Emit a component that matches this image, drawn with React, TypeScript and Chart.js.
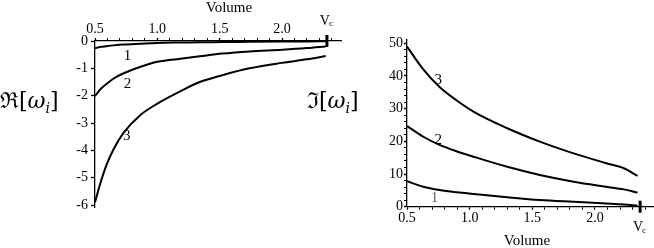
import React, { useEffect, useRef } from "react";
import { Chart, registerables } from "chart.js";
Chart.register(...registerables);

// ---- data ----
const VC = 2.36;
const X_MAJOR = [0.5, 1.0, 1.5, 2.0];
const RE_Y_TICKS = [0, -1, -2, -3, -4, -5, -6];
const IM_Y_TICKS = [0, 10, 20, 30, 40, 50];

const RE_V = [0.5, 0.54, 0.59, 0.65, 0.73, 0.86, 1.0, 1.2, 1.34, 1.52, 1.74, 2.0, 2.2, 2.35];
const RE_MODE1 = [-0.27, -0.22, -0.19, -0.16, -0.13, -0.1, -0.07, -0.055, -0.045, -0.04, -0.03, -0.02, -0.015, -0.01];
const RE_MODE2 = [-2.02, -1.78, -1.58, -1.37, -1.18, -0.95, -0.76, -0.64, -0.56, -0.46, -0.38, -0.32, -0.26, -0.2];
const RE_MODE3 = [-5.9, -5.25, -4.56, -3.95, -3.35, -2.72, -2.29, -1.8, -1.5, -1.25, -1.0, -0.8, -0.67, -0.55];

const IM_V = [0.5, 0.63, 0.76, 0.9, 1.03, 1.3, 1.56, 1.83, 2.09, 2.23, 2.34];
const IM_MODE1 = [7.8, 6.1, 5.1, 4.4, 3.9, 2.9, 2.05, 1.5, 1.0, 0.7, 0.3];
const IM_MODE2 = [24.7, 21.4, 18.9, 16.9, 15.3, 12.2, 9.7, 7.65, 6.1, 5.3, 4.3];
const IM_MODE3 = [49.0, 42.0, 36.6, 32.4, 29.1, 24.0, 19.9, 16.3, 13.3, 11.75, 9.4];

const MODE_NAMES = ["1", "2", "3"];
const RE_LABEL_X = [0.76, 0.76, 0.755];
const RE_LABEL_Y = [-0.55, -1.58, -3.46];
const IM_LABEL_X = [0.72, 0.75, 0.75];
const IM_LABEL_Y = [2.6, 20.4, 38.8];

const SERIF = "'Liberation Serif', 'DejaVu Serif', serif";

const pts = (xs: number[], ys: number[]) => xs.map((x, i) => ({ x, y: ys[i] }));

const minorX = () => {
  const t: { value: number }[] = [];
  for (let k = 5; k <= 24; k++) t.push({ value: k / 10 });
  return t;
};

const fix = (size: number, horizontal: boolean) => (s: any) => {
  if (horizontal) s.height = size;
  else s.width = size;
  s.paddingLeft = 0;
  s.paddingRight = 0;
  s.paddingTop = 0;
  s.paddingBottom = 0;
};

const isMajorX = (v: number) => X_MAJOR.some((m) => Math.abs(m - v) < 1e-6);

const annotPlugin = {
  id: "annot",
  afterDraw(chart: any, _args: any, opts: any) {
    const { ctx, chartArea } = chart;
    const xs = chart.scales.x;
    const ys = chart.scales.y;
    ctx.save();
    ctx.fillStyle = "#000";
    ctx.textAlign = "center";
    ctx.textBaseline = "middle";
    ctx.font = `15px ${SERIF}`;
    opts.lx.forEach((x: number, i: number) => {
      ctx.fillStyle = opts.labelColors[i];
      ctx.fillText(MODE_NAMES[i], xs.getPixelForValue(x), ys.getPixelForValue(opts.ly[i]));
    });
    ctx.fillStyle = "#000";
    // Vc thick tick
    const vx = xs.getPixelForValue(VC);
    const ay = opts.top ? chartArea.top : chartArea.bottom;
    ctx.fillRect(vx - 1.5, ay - 6, 3, 12);
    // Vc label
    const vy = ay + opts.vcDy;
    ctx.font = `14px ${SERIF}`;
    ctx.fillText("V", vx - 2, vy);
    ctx.font = `9px ${SERIF}`;
    ctx.fillText("c", vx + 4, vy + 3);
    // axis title
    ctx.font = `15px ${SERIF}`;
    ctx.fillText("Volume", (chartArea.left + chartArea.right) / 2 + opts.titleDx, ay + opts.titleDy);
    ctx.restore();
  },
};

const tickFont = { family: SERIF, size: 14 };

function makeConfig(kind: "re" | "im"): any {
  const re = kind === "re";
  const V = re ? RE_V : IM_V;
  const modes = re ? [RE_MODE1, RE_MODE2, RE_MODE3] : [IM_MODE1, IM_MODE2, IM_MODE3];
  const yTicks = re ? RE_Y_TICKS : IM_Y_TICKS;
  return {
    type: "line",
    data: {
      datasets: modes.map((m, i) => ({
        label: MODE_NAMES[i],
        data: pts(V, m),
        borderColor: "#000",
        borderWidth: 2,
        pointRadius: 0,
        fill: false,
        cubicInterpolationMode: "monotone",
      })),
    },
    options: {
      responsive: false,
      animation: false,
      events: [],
      layout: re
        ? { padding: { left: 0, top: 0, right: 9, bottom: 41 } }
        : { padding: { left: 0, top: 40, right: 1, bottom: 0 } },
      plugins: {
        legend: { display: false },
        tooltip: { enabled: false },
        annot: re
          ? { lx: RE_LABEL_X, ly: RE_LABEL_Y, labelColors: ["#000", "#000", "#000"], top: true, vcDy: -20, titleDx: 11, titleDy: -33 }
          : { lx: IM_LABEL_X, ly: IM_LABEL_Y, labelColors: ["#666", "#000", "#000"], top: false, vcDy: 21, titleDx: -3, titleDy: 34 },
      },
      scales: {
        x: {
          type: "linear",
          position: re ? "top" : "bottom",
          min: 0.5,
          max: re ? 2.473 : 2.463,
          afterBuildTicks: (s: any) => {
            s.ticks = minorX();
          },
          afterFit: fix(re ? 41 : 41.3, true),
          ticks: {
            autoSkip: false,
            maxRotation: 0,
            padding: 0,
            color: "#000",
            font: tickFont,
            callback: (v: number) => (isMajorX(v) ? v.toFixed(1) : ""),
          },
          grid: {
            drawOnChartArea: false,
            drawTicks: true,
            tickLength: 3,
            tickColor: "#000",
            tickWidth: (c: any) => (c.tick && isMajorX(c.tick.value) ? 1.3 : 1),
          },
          border: { display: true, color: "#000", width: 1.3 },
        },
        y: {
          type: "linear",
          position: "left",
          min: re ? -6.07 : 0,
          max: re ? 0 : 51,
          afterBuildTicks: (s: any) => {
            if (re) {
              s.ticks = yTicks.map((v) => ({ value: v }));
            } else {
              const t: { value: number }[] = [];
              for (let v = 0; v <= 50; v += 2) t.push({ value: v });
              s.ticks = t;
            }
          },
          afterFit: fix(re ? 95 : 117, false),
          ticks: {
            autoSkip: false,
            padding: re ? 3 : 1,
            color: "#000",
            font: tickFont,
            callback: (v: number) => (yTicks.includes(v) ? String(v) : ""),
          },
          grid: {
            drawOnChartArea: false,
            drawTicks: true,
            tickLength: re ? 4 : 3,
            tickColor: "#000",
            tickWidth: (c: any) => (c.tick && yTicks.includes(c.tick.value) ? 1.3 : 1),
          },
          border: { display: true, color: "#000", width: 1.3 },
        },
      },
    },
    plugins: [annotPlugin],
  };
}

function Panel({ kind, left, width }: { kind: "re" | "im"; left: number; width: number }) {
  const ref = useRef<HTMLCanvasElement | null>(null);
  useEffect(() => {
    if (!ref.current) return;
    const chart = new Chart(ref.current, makeConfig(kind));
    return () => chart.destroy();
  }, [kind]);
  return (
    <canvas
      ref={ref}
      width={width}
      height={248}
      style={{ position: "absolute", left, top: 0, width, height: 248 }}
    />
  );
}

const labelStyle: React.CSSProperties = {
  position: "absolute",
  fontFamily: "'DejaVu Serif', serif",
  fontSize: 22,
  lineHeight: "26px",
  color: "#000",
  whiteSpace: "nowrap",
};

export default function App() {
  useEffect(() => {
    document.body.style.margin = "0";
  }, []);
  return (
    <div style={{ position: "fixed", left: 0, top: 0, width: 654, height: 248, background: "#fff", overflow: "hidden" }}>
      <Panel kind="re" left={0} width={350} />
      <Panel kind="im" left={290} width={364} />
      <div style={{ ...labelStyle, left: 0, top: 88 }}>
        ℜ[<i>ω</i><sub style={{ fontSize: 14, fontStyle: "italic" }}>i</sub>]
      </div>
      <div style={{ ...labelStyle, left: 307, top: 88 }}>
        ℑ[<i>ω</i><sub style={{ fontSize: 14, fontStyle: "italic" }}>i</sub>]
      </div>
    </div>
  );
}
